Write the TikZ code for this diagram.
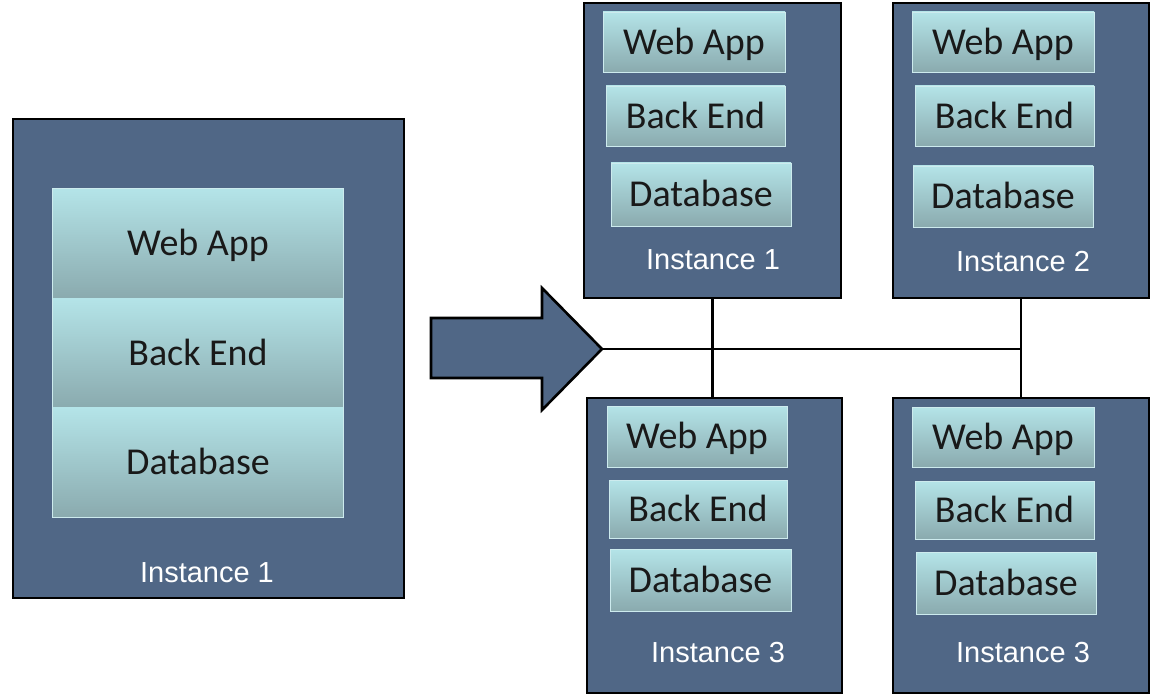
\documentclass[tikz,border=0pt]{standalone}
\usepackage{fontspec}
\setmainfont{Carlito}
\newfontfamily\labelfont{Liberation Sans}
\definecolor{slate}{RGB}{80,103,134}
\definecolor{layertop}{RGB}{180,228,232}
\definecolor{layerbot}{RGB}{138,170,174}
\definecolor{layeredge}{RGB}{205,235,238}
\begin{document}
\begin{tikzpicture}[x=1pt,y=-1pt,
  inst/.style={draw=black,line width=2.6pt,fill=slate,inner sep=0pt},
  layer/.style={top color=layertop,bottom color=layerbot,draw=layeredge,line width=0.8pt,
    inner sep=0pt,text=black!90,font=\fontsize{38}{40}\selectfont,
    text height=24.5pt,text depth=0pt},
  slab/.style={top color=layertop,bottom color=layerbot,draw=none,
    inner sep=0pt,text=black!90,font=\fontsize{38}{40}\selectfont,
    text height=24.5pt,text depth=0pt,minimum width=290pt,minimum height=109.7pt},
  tag/.style={text=white,font=\labelfont\fontsize{29}{30}\selectfont,inner sep=0pt},
  wire/.style={draw=black,line width=2.6pt}]
\useasboundingbox (0,0) rectangle (1155,695);

% single instance on the left
\node[inst,minimum width=391pt,minimum height=479pt] (L) at (208.5,358.5) {};
\node[slab] (Lweb) at (198,243.5) {Web App};
\node[slab] (Lback) at (198,353) {Back End};
\node[slab] (Ldb) at (198,462.5) {Database};
\draw[layeredge,line width=0.8pt] (Lweb.north west) rectangle (Ldb.south east);
\node[tag] (Ltag) at (207,573) {Instance 1};

% block arrow
\draw[fill=slate,line width=2.6pt,line join=miter]
  (431,318) -- (542,318) -- (542,288) -- (602,349) -- (542,410) -- (542,378) -- (431,378) -- cycle;
\coordinate (tip) at (602,349);

% four scaled-out instances
\node[inst,minimum width=257pt,minimum height=295pt] (A1) at (712.5,150.5) {};
\node[inst,minimum width=256pt,minimum height=295pt] (A2) at (1021,150.5) {};
\node[inst,minimum width=255pt,minimum height=295pt] (A3) at (714.5,545.5) {};
\node[inst,minimum width=256pt,minimum height=295pt] (A4) at (1021,545.5) {};

\node[layer,minimum width=182pt,minimum height=60pt] (A1web) at (694,42) {Web App};
\node[layer,minimum width=179pt,minimum height=60pt] (A1back) at (695.5,116) {Back End};
\node[layer,minimum width=180pt,minimum height=63pt] (A1db) at (701,194.5) {Database};
\node[tag] (A1tag) at (713,260) {Instance 1};

\node[layer,minimum width=182pt,minimum height=60pt] (A2web) at (1003,42) {Web App};
\node[layer,minimum width=179pt,minimum height=60pt] (A2back) at (1004.5,116) {Back End};
\node[layer,minimum width=180pt,minimum height=61pt] (A2db) at (1003,196.5) {Database};
\node[tag] (A2tag) at (1023,262) {Instance 2};

\node[layer,minimum width=180pt,minimum height=61pt] (A3web) at (697,436.5) {Web App};
\node[layer,minimum width=178pt,minimum height=58pt] (A3back) at (698,509) {Back End};
\node[layer,minimum width=181pt,minimum height=62pt] (A3db) at (700.5,580) {Database};
\node[tag] (A3tag) at (718,653) {Instance 3};

\node[layer,minimum width=182pt,minimum height=60pt] (A4web) at (1003,437) {Web App};
\node[layer,minimum width=179pt,minimum height=58pt] (A4back) at (1004.5,510) {Back End};
\node[layer,minimum width=180pt,minimum height=62pt] (A4db) at (1006,583) {Database};
\node[tag] (A4tag) at (1023,653) {Instance 3};

% network links
\coordinate (hub) at (A2.south |- tip);
\draw[wire] (tip) -- (hub);
\draw[wire] (A1.south) -- (A1.south |- A3.north);
\draw[wire] (A2.south) -- (A4.north);
\end{tikzpicture}
\end{document}
